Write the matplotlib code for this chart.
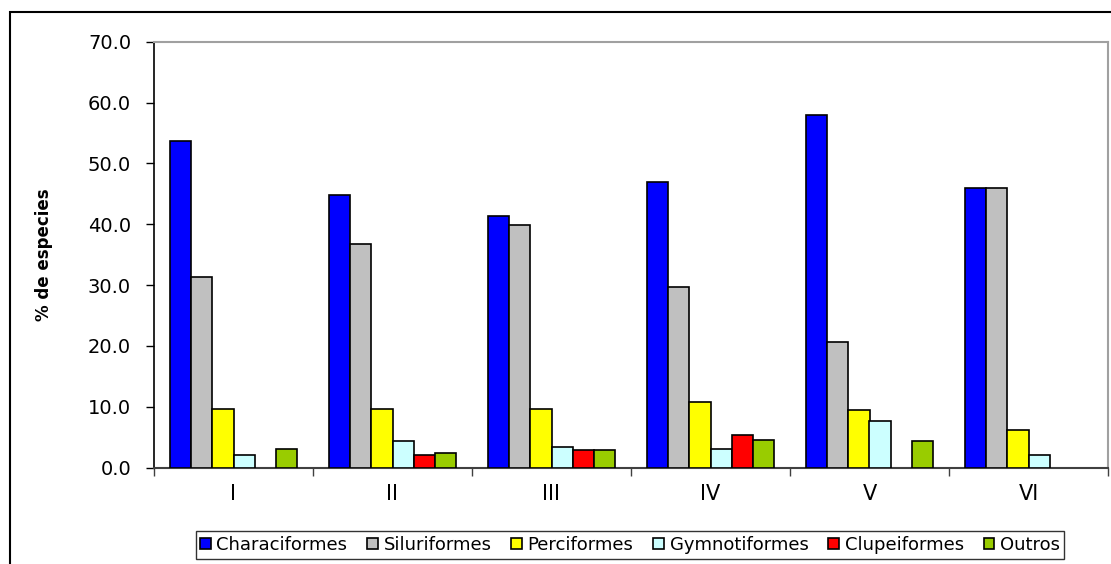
import numpy as np
import matplotlib
matplotlib.use("Agg")
import matplotlib.pyplot as plt
from matplotlib.patches import Rectangle
from matplotlib.ticker import FixedLocator, NullFormatter

plt.rcParams['font.family'] = ['DejaVu Sans']

categories = ["I", "II", "III", "IV", "V", "VI"]
series_names = ["Characiformes", "Siluriformes", "Perciformes",
                "Gymnotiformes", "Clupeiformes", "Outros"]
characiformes = [53.7, 44.8, 41.3, 46.9, 57.9, 45.9]
siluriformes = [31.3, 36.8, 39.8, 29.6, 20.7, 45.9]
perciformes = [9.6, 9.6, 9.6, 10.7, 9.4, 6.2]
gymnotiformes = [2.1, 4.4, 3.4, 3.0, 7.7, 2.1]
clupeiformes = [0.0, 2.0, 2.9, 5.3, 0.0, 0.0]
outros = [3.0, 2.4, 2.9, 4.5, 4.3, 0.0]
colors = ["#0000FF", "#C0C0C0", "#FFFF00", "#CCFFFF", "#FF0000", "#99CC00"]
yticks = [0, 10, 20, 30, 40, 50, 60, 70]

series = [characiformes, siluriformes, perciformes, gymnotiformes, clupeiformes, outros]

fig = plt.figure(figsize=(11.11, 5.64), dpi=100)
ax = fig.add_axes([154 / 1111, 1 - 467.5 / 564, (1108 - 154) / 1111, (467.5 - 41.7) / 564])

x = np.arange(len(categories))
n = len(series)
width = 1.0 / (n + 1.5)
handles = []
for i, (vals, name, col) in enumerate(zip(series, series_names, colors)):
    offs = (i - (n - 1) / 2) * width
    vals = np.asarray(vals, dtype=float)
    keep = vals > 0
    bars = ax.bar(x[keep] + offs, vals[keep], width=width, color=col,
                  edgecolor="black", linewidth=1.2, label=name, zorder=3)
    handles.append(bars)

ax.set_xlim(-0.5, len(categories) - 0.5)
ax.set_ylim(0, 70)
ax.set_yticks(yticks)
ax.set_yticklabels([f"{v:.1f}" for v in yticks], fontsize=14)
ax.set_xticks(x)
ax.set_xticklabels(categories, fontsize=15)
ax.xaxis.set_minor_locator(FixedLocator(np.arange(-0.5, len(categories), 1.0)))
ax.xaxis.set_minor_formatter(NullFormatter())
ax.tick_params(axis="x", which="major", length=0, pad=12)
ax.tick_params(axis="x", which="minor", length=5.5, width=1, color="#404040")
ax.tick_params(axis="y", length=5.5, width=1, pad=11)

ax.spines["top"].set_color("#A0A0A0")
ax.spines["right"].set_color("#A0A0A0")
ax.spines["top"].set_linewidth(1.5)
ax.spines["right"].set_linewidth(1.5)
ax.spines["left"].set_color("black")
ax.spines["left"].set_linewidth(1.2)
ax.spines["bottom"].set_color("#404040")
ax.spines["bottom"].set_linewidth(1.5)

ax.set_ylabel("% de especies", fontsize=12, fontweight="bold")
ax.yaxis.set_label_coords(-0.106, 0.5)

leg = fig.legend(handles=handles, labels=series_names, loc="center",
                 bbox_to_anchor=(630 / 1111, 1 - 545 / 564), ncol=6,
                 fontsize=13, frameon=True, fancybox=False,
                 handlelength=0.6, handleheight=0.6, handletextpad=0.3,
                 columnspacing=1.1, borderpad=0.25, borderaxespad=0)
leg.get_frame().set_edgecolor("black")
leg.get_frame().set_linewidth(1.0)

fig.add_artist(Rectangle((10 / 1111, -0.1), 1.2, 1.1 - 12 / 564,
                         transform=fig.transFigure, fill=False,
                         edgecolor="black", linewidth=1.5))

fig.savefig("out.png", dpi=100, facecolor="white")
